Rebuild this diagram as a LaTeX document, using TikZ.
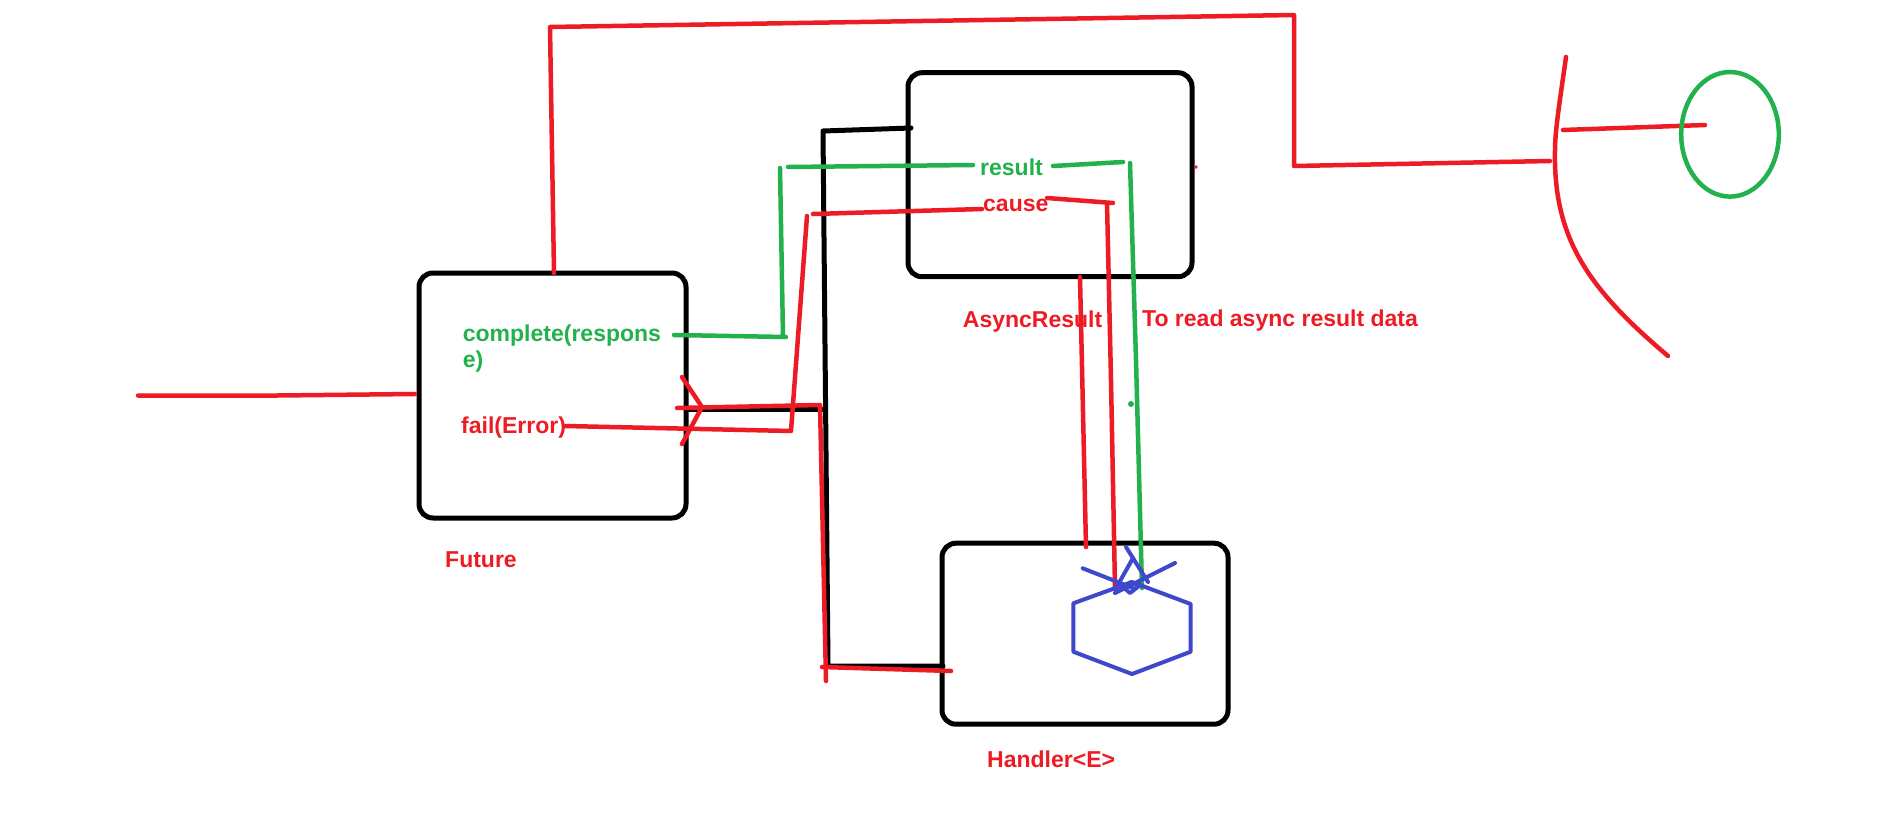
\documentclass[tikz,border=0pt]{standalone}
\usepackage{fontspec}
\setmainfont{Liberation Sans}
\definecolor{pred}{HTML}{ED1C24}
\definecolor{pgreen}{HTML}{22B14C}
\definecolor{pblue}{HTML}{3F48CC}
\begin{document}
\begin{tikzpicture}[x=1pt,y=-1pt,
  box/.style={draw=black, line width=5pt, rounded corners=14pt, rectangle, inner sep=0pt},
  rl/.style={draw=pred, line width=4.5pt, line cap=round, line join=round},
  gl/.style={draw=pgreen, line width=4.5pt, line cap=round, line join=round},
  bl/.style={draw=black, line width=5pt, line cap=round, line join=round},
  hl/.style={draw=pblue, line width=4pt, line cap=round, line join=round},
  lbl/.style={inner sep=0pt, anchor=base west, font=\fontsize{23}{26}\selectfont\bfseries}]
\useasboundingbox (0,0) rectangle (1901,822);
\fill[white] (0,0) rectangle (1901,822);

% boxes
\node[box, minimum width=267pt, minimum height=245pt] (future) at (552.5,395.5) {};
\node[box, minimum width=284pt, minimum height=204pt] (async) at (1050,174.7) {};
\node[box, minimum width=286pt, minimum height=181pt] (handler) at (1085,633.7) {};

% labels
\node[lbl, text=pgreen] (complete1) at (462.7,341) {complete(respons};
\node[lbl, text=pgreen] (complete2) at (462.7,367) {e)};
\node[lbl, text=pred] (fail) at (461,433) {fail(Error)};
\node[lbl, text=pred] (futurelbl) at (445,567) {Future};
\node[lbl, text=pgreen] (result) at (980,175) {result};
\node[lbl, text=pred] (cause) at (983,211) {cause};
\node[lbl, text=pred] (asynclbl) at (962.7,327) {AsyncResult};
\node[lbl, text=pred] (toread) at (1142,326) {To read async result data};
\node[lbl, text=pred] (handlerlbl) at (987,767) {Handler<E>};

% coordinates
\coordinate (inL) at (138,395.5);
\coordinate (inR) at (415,394);
\coordinate (futTop) at (554,273);
\coordinate (tl) at (550,27);
\coordinate (tr) at (1294,15);
\coordinate (rr) at (1294,166);
\coordinate (brk) at (1550,161);
\coordinate (cirL) at (1563,130);
\coordinate (cirR) at (1705,125);
\coordinate (ellc) at (1730,134.3);

% black connector
\draw[bl] (911,128) -- (823,131) -- (828,666) -- (943,666);
\draw[bl] (687,409) -- (825,409);

% green connectors
\draw[gl] (674,335) -- (730,336) -- (786,337);
\draw[gl] (780,168) -- (783,337);
\draw[gl] (788,167) -- (973,165);
\draw[gl] (1053,166) -- (1123,162);
\draw[gl] (1130,163) -- (1136,360) -- (1142,588);
\fill[pgreen] (1131,404) circle (3pt);

% red connectors
\draw[rl] (inL) -- (277,395.5) -- (inR);
\draw[rl] (futTop) -- (tl) -- (tr) -- (rr) -- (brk);
\draw[rl] (1566,57) .. controls (1560,100) and (1555,130) .. (1555,150)
          .. controls (1553,240) and (1590,290) .. (1668,356);
\draw[rl] (cirL) -- (cirR);
\draw[rl] (565,426) -- (791,431) -- (807,216);
\draw[rl] (813,214) -- (982,209);
\draw[rl] (1047,198) -- (1113,203);
\draw[rl] (1107,203) -- (1111,380) -- (1115,588);
\draw[rl] (682,377) -- (702,407) -- (682,444);
\draw[rl] (677,408) -- (820,405) -- (826,681);
\draw[rl] (822,667) -- (951,671);
\draw[rl] (1080,277) -- (1086,547);
\fill[pred] (1196,167) circle (1.8pt);

% green circle
\draw[pgreen, line width=4.5pt] (ellc) ellipse [x radius=48.8, y radius=62.3];

% blue hexagon and cross
\draw[hl] (1132,582) -- (1190.7,604) -- (1190.7,651.7) -- (1132,674) -- (1073.3,651.7) -- (1073.3,603.3) -- cycle;
\draw[hl] (1123,587) -- (1131,582) -- (1139,586) -- (1130,593) -- cycle;
\draw[hl] (1082.7,568.3) -- (1133,588);
\draw[hl] (1175,563) -- (1115,593);
\draw[hl] (1126,547) -- (1148,582);
\draw[hl] (1133,558) -- (1115,590);
\end{tikzpicture}
\end{document}
